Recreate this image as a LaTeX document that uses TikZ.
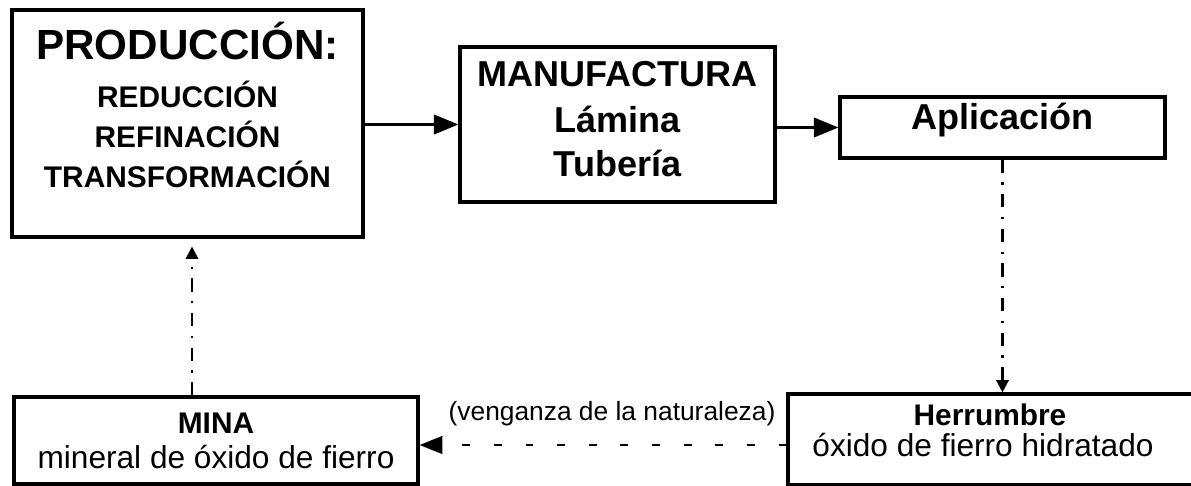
\documentclass[tikz,border=0pt]{standalone}
\usepackage{fontspec}
\setmainfont{Liberation Sans}
\usetikzlibrary{arrows.meta, positioning}

\begin{document}
\begin{tikzpicture}[
    x=0.02cm, y=-0.02cm,
    caja/.style={draw, line width=1.8pt, inner sep=0pt},
    txt/.style={align=center, inner sep=0pt, anchor=base},
    flecha/.style={-{Triangle[length=14pt, width=11pt]}, line width=1.8pt},
    puntoraya/.style={-{Triangle[length=7pt, width=7pt]}, line width=1.3pt,
                      dash pattern=on 7.5pt off 5.5pt on 1.2pt off 5.5pt},
    rayas/.style={-{Triangle[length=13pt, width=10pt]}, line width=1.5pt,
                  dash pattern=on 4.5pt off 13.5pt},
]

\useasboundingbox (0,0) rectangle (1191,486);

%% Cajas con coordenadas absolutas
\node[caja, minimum width=7.02cm, minimum height=4.54cm] at (187.5,123.5) (prod) {};
\node[caja, minimum width=6.3cm,  minimum height=3.1cm]  at (617.5,124.5) (manu) {};
\node[caja, minimum width=6.5cm,  minimum height=1.22cm] at (1002.5,127.5) (apl) {};
\node[caja, minimum width=8.08cm, minimum height=1.74cm] at (216,440.5) (mina) {};
\node[caja, minimum width=8.24cm, minimum height=1.82cm] at (994,439.5) (herr) {};

%% Textos (anchor=base: linea base de la ultima linea)
\node[txt, font=\fontsize{24}{28}\selectfont\bfseries] at (187.5,60) (prodtit) {PRODUCCIÓN:};
\node[txt, font=\fontsize{17}{23}\selectfont\bfseries] at (187.5,188) (prodsub)
     {REDUCCIÓN\\REFINACIÓN\\TRANSFORMACIÓN};
\node[txt, font=\fontsize{20.5}{24}\selectfont\bfseries] at (617.5,87) (manutit) {MANUFACTURA};
\node[txt, font=\fontsize{20.5}{25.5}\selectfont\bfseries] at (617.5,177) (manusub) {Lámina\\Tubería};
\node[txt, font=\fontsize{20.5}{24}\selectfont\bfseries] at (1002.5,130) (apltxt) {Aplicación};
\node[txt, font=\fontsize{17}{20}\selectfont\bfseries] at (216,434) (minatit) {MINA};
\node[txt, font=\fontsize{18}{20}\selectfont] at (216,468) (minadesc) {mineral de óxido de fierro};
\node[txt, font=\fontsize{17}{20}\selectfont\bfseries] at (990,425) (herrtit) {Herrumbre};
\node[txt, font=\fontsize{18}{20}\selectfont] at (983,457) (herrdesc) {óxido de fierro hidratado};
\node[txt, font=\fontsize{15}{18}\selectfont] at (612,420) (venganza) {(venganza de la naturaleza)};

\coordinate (subida) at (192,0);
\coordinate (nivel) at (0,445);

%% Flechas
\draw[flecha] (prod.east |- manu.west) -- (manu.west);
\draw[flecha] (manu.east |- apl.west) -- (apl.west);
\draw[puntoraya] (apl.south) -- (apl.south |- herr.north);
\draw[rayas] (herr.west |- nivel) -- (mina.east |- nivel);
\draw[puntoraya, shorten >=0.16cm] (mina.north -| subida) -- (prod.south -| subida);

\end{tikzpicture}
\end{document}
